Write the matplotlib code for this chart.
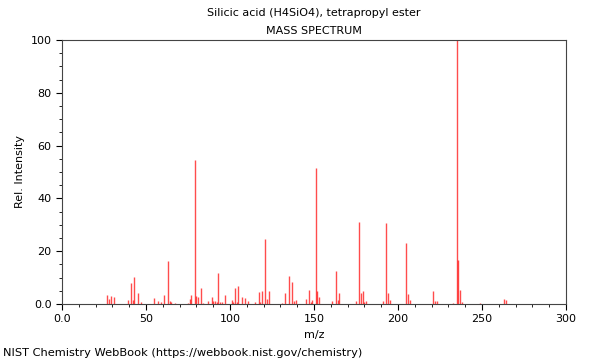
import numpy as np
import matplotlib.pyplot as plt
from matplotlib.ticker import MultipleLocator

title = "Silicic acid (H4SiO4), tetrapropyl ester"
mz = [27, 28, 29, 31, 39, 41, 42, 43, 45, 47, 55, 57, 59, 61, 63, 64, 65, 67,
      75, 76, 77, 79, 80, 81, 83, 84, 87, 89, 90, 91, 92, 93, 94, 95, 97,
      101, 102, 103, 104, 105, 107, 109, 111, 115, 117, 118, 119, 121, 122, 123,
      131, 133, 135, 137, 138, 139, 145, 147, 148, 149, 151, 152, 153,
      161, 163, 164, 165, 175, 177, 178, 179, 180, 181, 191, 193, 194, 195,
      205, 206, 207, 221, 222, 223, 233, 235, 236, 237, 238, 249, 263, 264]
intensity = [3.5, 2.0, 2.9, 2.7, 1.5, 7.8, 1.5, 10.4, 4.3, 0.7, 2.3, 1.0, 0.7, 3.5, 16.3, 1.0, 0.6, 0.5,
             0.5, 2.0, 3.4, 54.5, 3.0, 2.7, 5.9, 0.5, 1.2, 2.6, 1.3, 1.2, 0.8, 11.6, 0.7, 0.6, 3.3,
             1.5, 0.8, 6.2, 0.8, 6.8, 2.6, 2.2, 1.2, 0.6, 4.4, 0.8, 4.9, 24.6, 2.0, 5.1,
             0.5, 4.0, 10.7, 8.3, 1.0, 1.5, 1.8, 5.3, 0.7, 1.5, 51.5, 5.0, 2.5,
             1.0, 12.5, 1.5, 4.2, 1.0, 31.0, 4.3, 4.8, 0.6, 1.0, 1.0, 30.7, 4.3, 1.5,
             23.2, 3.8, 1.5, 4.9, 1.0, 1.2, 0.5, 100.0, 16.7, 5.3, 0.6, 0.3, 2.0, 1.6]

fig = plt.figure(figsize=(6, 3.6), dpi=100)
ax = fig.add_axes([0.1033, 0.1556, 0.84, 0.7333])
ax.vlines(mz, 0, intensity, color="red", alpha=0.7, linewidth=1)
ax.set_xlim(0, 300)
ax.set_ylim(0, 100)
ax.xaxis.set_major_locator(MultipleLocator(50))
ax.xaxis.set_minor_locator(MultipleLocator(10))
ax.yaxis.set_major_locator(MultipleLocator(20))
ax.yaxis.set_minor_locator(MultipleLocator(5))
ax.set_xticklabels(["0.0" if t == 0 else f"{int(t)}" for t in ax.get_xticks()])
ax.set_yticklabels(["0.0" if t == 0 else f"{int(t)}" for t in ax.get_yticks()])
ax.tick_params(labelsize=8, direction="out", top=False, right=False)
ax.tick_params(which="major", length=4)
ax.tick_params(which="minor", length=2.5)
for s in ax.spines.values():
    s.set_color("#444444")
ax.set_xlabel("m/z", fontsize=8)
ax.set_ylabel("Rel. Intensity", fontsize=8)
fig.text(0.5233, 0.965, title, ha="center", va="center", fontsize=8)
ax.set_title("MASS SPECTRUM", fontsize=8, pad=4)
fig.text(0.005, 0.02, "NIST Chemistry WebBook (https://webbook.nist.gov/chemistry)",
         ha="left", va="center", fontsize=8.2)
fig.savefig("out.png", dpi=100)
